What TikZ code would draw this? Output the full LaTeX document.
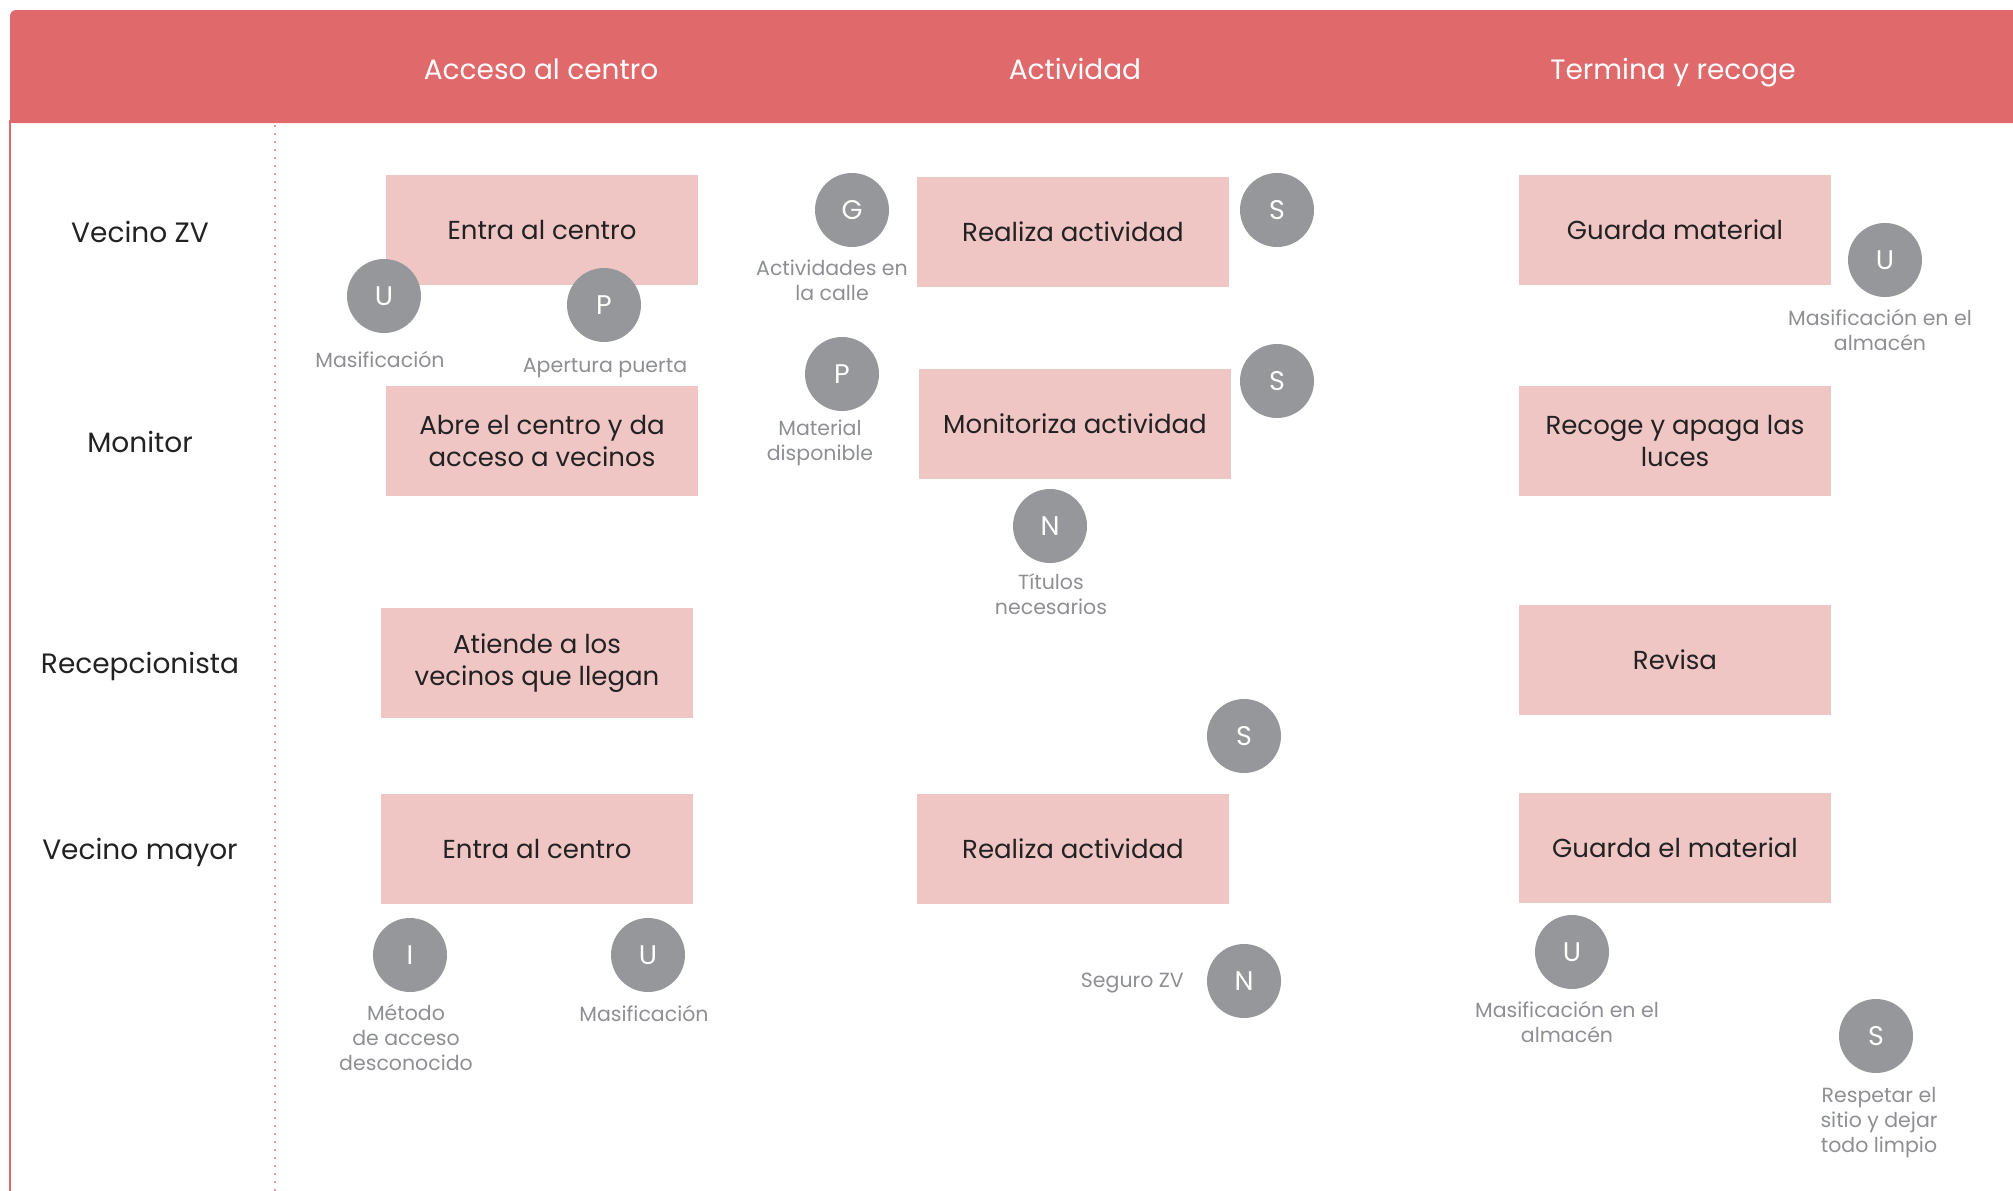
\documentclass[tikz,border=0pt]{standalone}
\usepackage{fontspec}
\setmainfont{Poppins}
\definecolor{hdr}{HTML}{E0696B}
\definecolor{boxc}{HTML}{F0C6C5}
\definecolor{circc}{HTML}{96979B}
\definecolor{lblc}{HTML}{8E8F93}
\definecolor{darkt}{HTML}{222222}
\definecolor{dotc}{HTML}{F09A9A}
\begin{document}
\begin{tikzpicture}[x=1pt,y=-1pt,
  stepbox/.style={fill=boxc, minimum width=312pt, minimum height=110pt, inner sep=0pt, align=center, text=darkt, font=\fontsize{26}{32}\selectfont},
  badge/.style={circle, fill=circc, minimum size=74pt, inner sep=0pt, text=white, text height=19pt, text depth=0pt, font=\fontsize{27}{28}\selectfont},
  note/.style={text=lblc, align=center, inner sep=0pt, font=\fontsize{20.5}{25}\selectfont},
  lane/.style={text=darkt, inner sep=0pt, text height=19.6pt, text depth=0pt, font=\fontsize{28}{30}\selectfont},
  phase/.style={text=white, inner sep=0pt, text height=19.6pt, text depth=0pt, font=\fontsize{28}{30}\selectfont}]
\useasboundingbox (0,0) rectangle (2013,1191);
% header and frame
\fill[hdr, rounded corners=6pt] (10,10) -- (2030,10) -- (2030,123) -- (10,123) -- cycle;
\fill[hdr] (10,60) rectangle (30,123);
\draw[hdr, line width=1.5pt] (10,120) -- (10,1191);
\draw[dotc, line width=1.5pt, dash pattern=on 2pt off 6pt] (275,125) -- (275,1191);
% phases
\node[phase] (ph1) at (541,70) {Acceso al centro};
\node[phase] (ph2) at (1075,70) {Actividad};
\node[phase] (ph3) at (1673,70) {Termina y recoge};
% lanes
\node[lane] (l1) at (140,233) {Vecino ZV};
\node[lane] (l2) at (140,443) {Monitor};
\node[lane] (l3) at (140,664) {Recepcionista};
\node[lane] (l4) at (140,850) {Vecino mayor};
% boxes
\node[stepbox] (b1) at (542,230) {Entra al centro};
\node[stepbox] (b2) at (542,441) {Abre el centro y da\\acceso a vecinos};
\node[stepbox] (b3) at (537,663) {Atiende a los\\vecinos que llegan};
\node[stepbox] (b4) at (537,849) {Entra al centro};
\node[stepbox] (b5) at (1073,232) {Realiza actividad};
\node[stepbox] (b6) at (1075,424) {Monitoriza actividad};
\node[stepbox] (b7) at (1073,849) {Realiza actividad};
\node[stepbox] (b8) at (1675,230) {Guarda material};
\node[stepbox] (b9) at (1675,441) {Recoge y apaga las\\luces};
\node[stepbox] (b10) at (1675,660) {Revisa};
\node[stepbox] (b11) at (1675,848) {Guarda el material};
% badges
\node[badge] (c1) at (384,296) {U};
\node[badge] (c2) at (604,305) {P};
\node[badge] (c3) at (852,210) {G};
\node[badge] (c4) at (1277,210) {S};
\node[badge] (c5) at (842,374) {P};
\node[badge] (c6) at (1277,381) {S};
\node[badge] (c7) at (1050,526) {N};
\node[badge] (c8) at (1244,736) {S};
\node[badge] (c9) at (1244,981) {N};
\node[badge] (c10) at (1885,260) {U};
\node[badge] (c11) at (410,955) {I};
\node[badge] (c12) at (648,955) {U};
\node[badge] (c13) at (1572,952) {U};
\node[badge] (c14) at (1876,1036) {S};
% notes
\node[note] (n1) at (380,359) {Masificación};
\node[note] (n2) at (605,368) {Apertura puerta};
\node[note] (n3) at (832,280) {Actividades en\\la calle};
\node[note] (n5) at (820,443) {Material\\disponible};
\node[note] (n7) at (1051,594) {Títulos\\necesarios};
\node[note, anchor=east] (n9) at (1184,983) {Seguro ZV};
\node[note] (n10) at (1880,330) {Masificación en el\\almacén};
\node[note] (n11) at (406,1038) {Método\\de acceso\\desconocido};
\node[note] (n12) at (644,1013) {Masificación};
\node[note] (n13) at (1567,1022) {Masificación en el\\almacén};
\node[note] (n14) at (1879,1123) {Respetar el\\sitio y dejar\\todo limpio};
\end{tikzpicture}
\end{document}
